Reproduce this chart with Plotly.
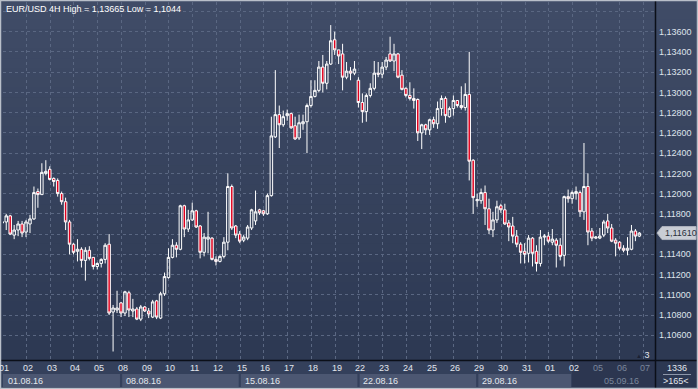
import plotly.graph_objects as go

# ---------------- data (EUR/USD 4H, 01.08.16 - 06.09.16) ----------------
open_ = [1.11710, 1.11720, 1.11780, 1.11590, 1.11640, 1.11700, 1.11620, 1.11700, 1.11750, 1.12020,
         1.11990, 1.12200, 1.12240, 1.12150, 1.12130, 1.12000, 1.11920, 1.11720, 1.11500, 1.11430,
         1.11450, 1.11340, 1.11440, 1.11370, 1.11280, 1.11310, 1.11350, 1.11500, 1.10830, 1.10850,
         1.10920, 1.10820, 1.11020, 1.10840, 1.10860, 1.10760, 1.10880, 1.10840, 1.10780, 1.10940,
         1.10770, 1.11010, 1.11170, 1.11370, 1.11490, 1.11450, 1.11880, 1.11650, 1.11740, 1.11830,
         1.11680, 1.11420, 1.11550, 1.11560, 1.11350, 1.11330, 1.11380, 1.11520, 1.12070, 1.11680,
         1.11600, 1.11540, 1.11560, 1.11660, 1.11730, 1.11840, 1.11830, 1.11800, 1.11980, 1.12560,
         1.12780, 1.12680, 1.12770, 1.12790, 1.12670, 1.12550, 1.12690, 1.12710, 1.12870, 1.12960,
         1.13020, 1.13250, 1.13090, 1.13280, 1.13520, 1.13420, 1.13380, 1.13150, 1.13210, 1.13190,
         1.13120, 1.12900, 1.12810, 1.12970, 1.13040, 1.13190, 1.13180, 1.13250, 1.13380, 1.13310,
         1.13380, 1.13170, 1.13040, 1.12970, 1.12940, 1.12930, 1.12600, 1.12680, 1.12630, 1.12730,
         1.12690, 1.12840, 1.12940, 1.12760, 1.12840, 1.12920, 1.12870, 1.12850, 1.12980, 1.12330,
         1.11930, 1.11930, 1.12010, 1.11850, 1.11640, 1.11740, 1.11880, 1.11840, 1.11710, 1.11680,
         1.11580, 1.11500, 1.11430, 1.11410, 1.11560, 1.11430, 1.11310, 1.11570, 1.11580, 1.11520,
         1.11540, 1.11490, 1.11390, 1.11970, 1.11950, 1.12000, 1.12010, 1.11820, 1.12070, 1.11630,
         1.11560, 1.11560, 1.11590, 1.11730, 1.11660, 1.11540, 1.11520, 1.11460, 1.11440, 1.11450,
         1.11630, 1.11580]
high = [1.11750, 1.11800, 1.11790, 1.11690, 1.11730, 1.11730, 1.11740, 1.11790, 1.12070, 1.12050,
        1.12300, 1.12330, 1.12270, 1.12160, 1.12150, 1.12020, 1.11960, 1.11740, 1.11510, 1.11550,
        1.11470, 1.11470, 1.11480, 1.11370, 1.11320, 1.11360, 1.11510, 1.11600, 1.10900, 1.11040,
        1.10930, 1.11040, 1.11040, 1.10960, 1.10880, 1.10900, 1.10890, 1.10870, 1.10950, 1.10950,
        1.11030, 1.11220, 1.11460, 1.11550, 1.11520, 1.11890, 1.11890, 1.11840, 1.11910, 1.11840,
        1.11690, 1.11610, 1.11820, 1.11570, 1.11380, 1.11390, 1.11570, 1.12200, 1.12090, 1.11690,
        1.11630, 1.11590, 1.11690, 1.11850, 1.12030, 1.11850, 1.11840, 1.12000, 1.12760, 1.13220,
        1.12870, 1.12820, 1.12830, 1.12800, 1.12760, 1.12780, 1.12780, 1.12890, 1.13120, 1.13120,
        1.13310, 1.13370, 1.13310, 1.13665, 1.13600, 1.13420, 1.13480, 1.13300, 1.13250, 1.13310,
        1.13150, 1.12990, 1.12990, 1.13090, 1.13310, 1.13300, 1.13300, 1.13350, 1.13550, 1.13480,
        1.13390, 1.13220, 1.13050, 1.13100, 1.13040, 1.12940, 1.12690, 1.12690, 1.12740, 1.12760,
        1.12910, 1.12970, 1.12960, 1.12860, 1.12970, 1.12920, 1.13060, 1.13090, 1.13400, 1.12340,
        1.12000, 1.12050, 1.12080, 1.11950, 1.11820, 1.11930, 1.11900, 1.11900, 1.11740, 1.11770,
        1.11640, 1.11520, 1.11510, 1.11590, 1.11570, 1.11490, 1.11640, 1.11600, 1.11620, 1.11650,
        1.11560, 1.11560, 1.11980, 1.12040, 1.12030, 1.12070, 1.12030, 1.12500, 1.12200, 1.11660,
        1.11580, 1.11660, 1.11740, 1.11800, 1.11700, 1.11560, 1.11530, 1.11490, 1.11570, 1.11690,
        1.11650, 1.11620]
low = [1.11700, 1.11640, 1.11590, 1.11550, 1.11580, 1.11570, 1.11570, 1.11610, 1.11740, 1.11860,
       1.11990, 1.12180, 1.12130, 1.12070, 1.11970, 1.11890, 1.11640, 1.11400, 1.11400, 1.11330,
       1.11270, 1.11140, 1.11340, 1.11250, 1.11250, 1.11270, 1.11310, 1.10800, 1.10440, 1.10820,
       1.10780, 1.10790, 1.10780, 1.10780, 1.10750, 1.10740, 1.10830, 1.10770, 1.10770, 1.10760,
       1.10760, 1.10990, 1.11160, 1.11360, 1.11370, 1.11440, 1.11570, 1.11620, 1.11730, 1.11660,
       1.11360, 1.11380, 1.11410, 1.11340, 1.11290, 1.11320, 1.11360, 1.11440, 1.11640, 1.11560,
       1.11510, 1.11520, 1.11540, 1.11640, 1.11690, 1.11790, 1.11780, 1.11790, 1.11970, 1.12550,
       1.12450, 1.12660, 1.12720, 1.12640, 1.12530, 1.12530, 1.12630, 1.12400, 1.12850, 1.12950,
       1.13000, 1.13000, 1.13030, 1.13270, 1.13370, 1.13280, 1.13020, 1.13130, 1.13120, 1.13170,
       1.12850, 1.12700, 1.12710, 1.12950, 1.13020, 1.13150, 1.13140, 1.13220, 1.13300, 1.13210,
       1.13140, 1.13020, 1.12950, 1.12920, 1.12840, 1.12520, 1.12440, 1.12580, 1.12580, 1.12650,
       1.12640, 1.12770, 1.12700, 1.12750, 1.12770, 1.12850, 1.12830, 1.12820, 1.12130, 1.11800,
       1.11870, 1.11900, 1.11690, 1.11600, 1.11570, 1.11710, 1.11810, 1.11690, 1.11530, 1.11510,
       1.11470, 1.11310, 1.11310, 1.11320, 1.11280, 1.11230, 1.11280, 1.11490, 1.11510, 1.11490,
       1.11270, 1.11340, 1.11280, 1.11910, 1.11900, 1.11940, 1.11770, 1.11740, 1.11490, 1.11530,
       1.11550, 1.11550, 1.11570, 1.11610, 1.11520, 1.11380, 1.11440, 1.11420, 1.11390, 1.11440,
       1.11530, 1.11570]
close = [1.11720, 1.11780, 1.11600, 1.11640, 1.11700, 1.11610, 1.11720, 1.11750, 1.12010, 1.11990,
         1.12210, 1.12220, 1.12140, 1.12120, 1.12000, 1.11920, 1.11720, 1.11500, 1.11420, 1.11450,
         1.11340, 1.11440, 1.11360, 1.11280, 1.11310, 1.11350, 1.11490, 1.10820, 1.10870, 1.10870,
         1.10820, 1.11030, 1.10850, 1.10860, 1.10760, 1.10880, 1.10840, 1.10810, 1.10930, 1.10780,
         1.11010, 1.11180, 1.11370, 1.11490, 1.11450, 1.11880, 1.11650, 1.11740, 1.11830, 1.11670,
         1.11420, 1.11570, 1.11570, 1.11350, 1.11330, 1.11380, 1.11520, 1.12070, 1.11660, 1.11590,
         1.11530, 1.11570, 1.11670, 1.11840, 1.11820, 1.11810, 1.11800, 1.11980, 1.12570, 1.12780,
         1.12680, 1.12760, 1.12790, 1.12650, 1.12540, 1.12700, 1.12710, 1.12870, 1.12960, 1.13020,
         1.13250, 1.13090, 1.13280, 1.13510, 1.13420, 1.13360, 1.13150, 1.13210, 1.13190, 1.13230,
         1.12900, 1.12810, 1.12970, 1.13040, 1.13190, 1.13180, 1.13250, 1.13320, 1.13310, 1.13380,
         1.13150, 1.13030, 1.12970, 1.12940, 1.12920, 1.12600, 1.12680, 1.12630, 1.12730, 1.12690,
         1.12840, 1.12940, 1.12770, 1.12840, 1.12920, 1.12870, 1.12850, 1.12980, 1.12320, 1.11960,
         1.11940, 1.12010, 1.11850, 1.11640, 1.11740, 1.11870, 1.11840, 1.11700, 1.11670, 1.11580,
         1.11500, 1.11420, 1.11400, 1.11560, 1.11410, 1.11310, 1.11570, 1.11580, 1.11530, 1.11550,
         1.11490, 1.11380, 1.11970, 1.11950, 1.12010, 1.12020, 1.11820, 1.12070, 1.11620, 1.11560,
         1.11570, 1.11580, 1.11720, 1.11660, 1.11530, 1.11510, 1.11460, 1.11440, 1.11460, 1.11630,
         1.11580, 1.11610]

day_labels = ["01", "02", "03", "04", "05", "08", "09", "10", "11", "12", "15", "16", "17", "18",
              "19", "22", "23", "24", "25", "26", "29", "30", "31", "01", "02", "05", "06", "07"]
week_labels = ["01.08.16", "08.08.16", "15.08.16", "22.08.16", "29.08.16", "05.09.16"]
week_start_day = [0, 5, 10, 15, 20, 24]
price_ticks = [1.106, 1.108, 1.110, 1.112, 1.114, 1.116, 1.118, 1.120, 1.122, 1.124,
               1.126, 1.128, 1.130, 1.132, 1.134, 1.136, 1.138]
price_ticktext = ["1,10600", "1,10800", "1,11000", "1,11200", "1,11400", "", "1,11800",
                  "1,12000", "1,12200", "1,12400", "1,12600", "1,12800", "1,13000", "1,13200",
                  "1,13400", "1,13600", ""]
title_text = "EUR/USD 4H High = 1,13665 Low = 1,1044"
last_price_text = "1,11610"
bars_per_day = 6

# ---------------- layout geometry ----------------
W, H = 698, 389
ML, MR, MT, MB = 3, 43, 2, 29
PW, PH = W - ML - MR, H - MT - MB
XR = [0.18, 164.95]
YR = [1.10356, 1.13893]
FONT = "Liberation Sans, Arial, sans-serif"
FS = 9


def pxp(px):
    return (px - ML) / PW


def pyp(py):
    return (H - MB - py) / PH


def jp(j):
    return (j - XR[0]) / (XR[1] - XR[0])


n = len(open_)
xs = list(range(n))

fig = go.Figure()
fig.add_trace(go.Candlestick(
    x=xs, open=open_, high=high, low=low, close=close,
    increasing=dict(line=dict(color="#ffffff", width=1), fillcolor="rgba(0,0,0,0)"),
    decreasing=dict(line=dict(color="#ffffff", width=1), fillcolor="#e0001e"),
    whiskerwidth=0, hoverinfo="skip", showlegend=False,
))

shapes = []
# gradient background bands
nb = 40
top, bot = (64, 76, 103), (43, 55, 81)
for i in range(nb):
    t = i / (nb - 1)
    c = tuple(int(round(top[k] + (bot[k] - top[k]) * t)) for k in range(3))
    y0 = H * i / nb
    y1 = H * (i + 1) / nb + 0.6
    shapes.append(dict(type="rect", xref="paper", yref="paper", layer="below",
                       x0=pxp(0), x1=pxp(W), y0=pyp(y1), y1=pyp(y0),
                       line=dict(width=0), fillcolor="rgb(%d,%d,%d)" % c))

# bottom date panel
shapes.append(dict(type="rect", xref="paper", yref="paper", layer="below",
                   x0=pxp(0), x1=pxp(655), y0=pyp(388), y1=pyp(361),
                   line=dict(width=0), fillcolor="#34405b"))
edges = [bars_per_day * d for d in week_start_day]
for k in range(len(edges) - 1):
    x0 = pxp(ML) if k == 0 else jp(edges[k]) + 1.2 / PW
    x1 = jp(edges[k + 1]) - 1.0 / PW
    shapes.append(dict(type="rect", xref="paper", yref="paper", layer="below",
                       x0=x0, x1=x1, y0=pyp(387), y1=pyp(374),
                       line=dict(width=0), fillcolor="#4c5772"))
# darker region at the right end of the date panel
shapes.append(dict(type="rect", xref="paper", yref="paper", layer="below",
                   x0=jp(edges[-1]), x1=pxp(655), y0=pyp(387), y1=pyp(361),
                   line=dict(width=0), fillcolor="#2c3650"))
# right bottom box
shapes.append(dict(type="line", xref="paper", yref="paper",
                   x0=pxp(663), x1=pxp(691), y0=pyp(374.5), y1=pyp(374.5),
                   line=dict(color="#8d97aa", width=1)))
# black axis lines
shapes.append(dict(type="line", xref="paper", yref="paper",
                   x0=pxp(0), x1=pxp(W), y0=pyp(360.5), y1=pyp(360.5),
                   line=dict(color="#0b0f18", width=1.5)))
shapes.append(dict(type="line", xref="paper", yref="paper",
                   x0=pxp(655.5), x1=pxp(655.5), y0=pyp(389), y1=pyp(1),
                   line=dict(color="#0b0f18", width=1.5)))
# last price tag
yl = (close[-1] - YR[0]) / (YR[1] - YR[0])
hh = 6.5 / PH
path = "M %f %f L %f %f L %f %f L %f %f L %f %f Z" % (
    pxp(657), yl, pxp(662), yl + hh, pxp(696), yl + hh, pxp(696), yl - hh, pxp(662), yl - hh)
shapes.append(dict(type="path", xref="paper", yref="paper", path=path,
                   fillcolor="#c9cdd5", line=dict(color="#aeb3bd", width=1)))
# outer frame
shapes.append(dict(type="rect", xref="paper", yref="paper",
                   x0=pxp(0.5), x1=pxp(W - 0.5), y0=pyp(H - 0.5), y1=pyp(0.5),
                   line=dict(color="#b9bfc9", width=1.5)))

annotations = []
annotations.append(dict(text=title_text, xref="paper", yref="paper", x=pxp(4), y=pyp(8.5),
                        xanchor="left", yanchor="middle", showarrow=False,
                        font=dict(family=FONT, size=FS, color="#ffffff")))
for d, lab in enumerate(day_labels):
    j = bars_per_day * d + 0.5
    col = "#7b869b" if bars_per_day * d > edges[-1] else "#e3e7ee"
    annotations.append(dict(text=lab, xref="x", yref="paper", x=j, y=pyp(367.5),
                            xanchor="center", yanchor="middle", showarrow=False,
                            font=dict(family=FONT, size=FS, color=col)))
for k, lab in enumerate(week_labels):
    if k == 0:
        xx = pxp(6)
    else:
        xx = jp(edges[k]) + 3.0 / PW
    col = "#7b869b" if k == len(week_labels) - 1 else "#e3e7ee"
    if k == len(week_labels) - 1:
        xx = jp(edges[k] + 7.5)
    annotations.append(dict(text=lab, xref="paper", yref="paper", x=xx, y=pyp(380.5),
                            xanchor="left", yanchor="middle", showarrow=False,
                            font=dict(family=FONT, size=FS, color=col)))
annotations.append(dict(text=last_price_text, xref="paper", yref="paper", x=pxp(662.5), y=yl,
                        xanchor="left", yanchor="middle", showarrow=False,
                        font=dict(family=FONT, size=FS, color="#2a2f3a")))
annotations.append(dict(text="1336", xref="paper", yref="paper", x=pxp(677), y=pyp(368),
                        xanchor="center", yanchor="middle", showarrow=False,
                        font=dict(family=FONT, size=FS, color="#e3e7ee")))
annotations.append(dict(text="&gt;165&lt;", xref="paper", yref="paper", x=pxp(676), y=pyp(381),
                        xanchor="center", yanchor="middle", showarrow=False,
                        font=dict(family=FONT, size=FS, color="#e3e7ee")))
annotations.append(dict(text="<span style='font-size:6px;color:#1a2133'>&#9650;</span> 3",
                        xref="paper", yref="paper", x=pxp(651), y=pyp(354.5),
                        xanchor="right", yanchor="middle", showarrow=False,
                        font=dict(family=FONT, size=FS, color="#e3e7ee")))

fig.update_layout(
    width=W, height=H,
    margin=dict(l=ML, r=MR, t=MT, b=MB, pad=0),
    paper_bgcolor="#36425d", plot_bgcolor="rgba(0,0,0,0)",
    separators=", ",
    shapes=shapes, annotations=annotations,
    showlegend=False,
    xaxis=dict(range=XR, rangeslider=dict(visible=False), showticklabels=False,
               tickvals=[bars_per_day * d + 0.1 for d in range(1, len(day_labels))],
               showgrid=True, gridcolor="#5a6782", griddash="3px,3px", gridwidth=1,
               zeroline=False, showline=False, ticks=""),
    yaxis=dict(range=YR, side="right", tickvals=price_ticks, ticktext=price_ticktext,
               showgrid=True, gridcolor="#5a6782", griddash="3px,3px", gridwidth=1,
               zeroline=False, showline=False, ticks="", ticklabelstandoff=3,
               tickfont=dict(family=FONT, size=FS, color="#dfe4ec")),
    boxgap=0.1,
)

fig.write_html("out.html", config={"displayModeBar": False},
               post_script="document.body.style.margin='0px';document.body.style.overflow='hidden';")
